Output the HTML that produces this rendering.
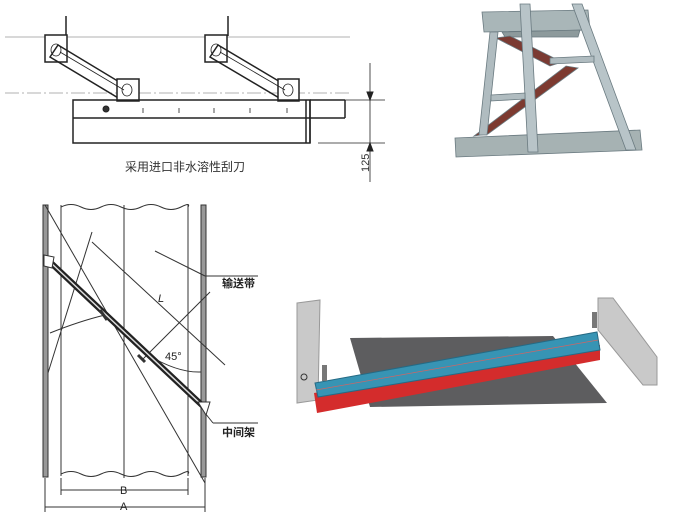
<!DOCTYPE html>
<html><head><meta charset="utf-8"><style>
html,body{margin:0;padding:0;background:#fff;width:681px;height:530px;overflow:hidden}
svg{display:block}
text{font-family:"Liberation Sans","Noto Sans CJK SC",sans-serif}
</style></head><body>
<svg width="681" height="530" viewBox="0 0 681 530" xmlns="http://www.w3.org/2000/svg">
<g stroke="#222" fill="none" stroke-width="1">
 <line x1="5" y1="37" x2="350" y2="37" stroke="#999" stroke-width="0.8"/>
 <line x1="5" y1="93" x2="350" y2="93" stroke="#999" stroke-width="0.8" stroke-dasharray="14,3,2,3"/>
 <g stroke-width="1.5">
  <line x1="66" y1="16" x2="66" y2="36"/>
  <rect x="45" y="35" width="22" height="27" fill="#fff"/>
  <line x1="228" y1="16" x2="228" y2="36"/>
  <rect x="205" y="35" width="22" height="27" fill="#fff"/>
  <polygon points="58,45 126,86 120,99 50,57"/>
  <polygon points="218,45 287,86 281,99 210,57"/>
  <rect x="117" y="79" width="22" height="22" fill="#fff"/>
  <rect x="278" y="79" width="21" height="22" fill="#fff"/>
  <rect x="73" y="100" width="237" height="43"/>
  <line x1="73" y1="118" x2="345" y2="118"/>
  <line x1="310" y1="100" x2="345" y2="100"/>
  <line x1="345" y1="100" x2="345" y2="118"/>
  <line x1="306" y1="100" x2="306" y2="143"/>
  <line x1="310" y1="100" x2="310" y2="143"/>
 </g>
 <g stroke-width="0.8">
  <ellipse cx="56" cy="50" rx="5" ry="6"/><ellipse cx="216" cy="50" rx="5" ry="6"/>
  <ellipse cx="127" cy="90" rx="5" ry="6"/><ellipse cx="288" cy="90" rx="5" ry="6"/>
  <line x1="60" y1="52" x2="124" y2="90"/><line x1="220" y1="52" x2="285" y2="90"/>
  <line x1="143" y1="108" x2="143" y2="113"/><line x1="179" y1="108" x2="179" y2="113"/>
  <line x1="214" y1="108" x2="214" y2="113"/><line x1="250" y1="108" x2="250" y2="113"/><line x1="287" y1="108" x2="287" y2="113"/>
  <line x1="345" y1="100" x2="385" y2="100"/><line x1="318" y1="143" x2="385" y2="143"/>
  <line x1="370" y1="63" x2="370" y2="182"/>
 </g>
 <circle cx="106" cy="109" r="3" fill="#333"/>
 <polygon points="367,92 373,92 370,100" fill="#222"/>
 <polygon points="367,151 373,151 370,143" fill="#222"/>
</g>
<text x="125" y="171" font-size="12" fill="#333">采用进口非水溶性刮刀</text>
<text transform="translate(369,172) rotate(-90)" font-size="11" fill="#333">125</text>

<g stroke="#333" fill="none" stroke-width="1">
 <rect x="43" y="205" width="5" height="272" fill="#999"/>
 <rect x="201" y="205" width="5" height="272" fill="#999"/>
 <path d="M61,207 q10,-5 20,0 t20,0 t20,0 t20,0 t20,0 t20,0 t7,0"/>
 <path d="M61,474 q10,-5 20,0 t20,0 t20,0 t20,0 t20,0 t20,0 t7,0"/>
 <line x1="61" y1="205" x2="61" y2="476"/>
 <line x1="188" y1="205" x2="188" y2="476"/>
 <line x1="124" y1="205" x2="124" y2="478"/>
 <line x1="45" y1="205" x2="205" y2="483"/>
 <line x1="92" y1="232" x2="48" y2="373"/>
 <line x1="210" y1="292" x2="142" y2="360"/>
 <line x1="92" y1="242" x2="225" y2="365"/>
 <line x1="155" y1="251" x2="205" y2="276" />
 <line x1="205" y1="276" x2="258" y2="276"/>
 <line x1="205" y1="413" x2="213" y2="423"/>
 <line x1="213" y1="423" x2="258" y2="423"/>
 <line x1="61" y1="478" x2="61" y2="495"/><line x1="188" y1="478" x2="188" y2="495"/>
 <line x1="45" y1="478" x2="45" y2="512"/><line x1="205" y1="478" x2="205" y2="512"/>
 <line x1="61" y1="490" x2="188" y2="490"/>
 <line x1="45" y1="507" x2="205" y2="507"/>
 <path d="M50,333 q30,-12 55,-18"/>
 <path d="M148,355 q30,18 53,17"/>
 <line x1="50" y1="262" x2="205" y2="408" stroke="#222" stroke-width="6"/>
 <line x1="50" y1="262" x2="205" y2="408" stroke="#ddd" stroke-width="1.5"/>
 <polygon points="44,255 54,257 52,268 44,266" fill="#fff"/>
 <polygon points="198,402 210,402 206,415" fill="#fff"/>
 <line x1="100" y1="310" x2="107" y2="320" stroke-width="3"/>
 <line x1="138" y1="355" x2="145" y2="362" stroke-width="3"/>
</g>
<text x="222" y="287" font-size="11" fill="#222" font-weight="bold">输送带</text>
<text x="222" y="436" font-size="11" fill="#222" font-weight="bold">中间架</text>
<text x="158" y="302" font-size="11" fill="#222" font-style="italic">L</text>
<text x="165" y="360" font-size="11" fill="#222">45°</text>
<text x="120" y="494" font-size="11" fill="#222">B</text>
<text x="120" y="510" font-size="11" fill="#222">A</text>

<!-- top-right photo -->
<g stroke="#6a7a80" stroke-width="0.8">
 <polygon points="482,12 588,10 590,30 484,32" fill="#a9b6b8"/>
 <polygon points="502,32 580,30 578,37 505,37" fill="#8d9a9c"/>
 <polygon points="455,138 640,130 642,150 456,157" fill="#a6b2b3"/>
 <polygon points="496,38 550,66 562,62 510,36" fill="#7b3a32"/>
 <polygon points="474,136 488,134 578,68 566,66" fill="#7d3a30"/>
 <polygon points="490,32 498,32 487,135 479,135" fill="#b0bcc0"/>
 <polygon points="520,4 530,4 538,152 528,152" fill="#b8c4c8"/>
 <polygon points="572,4 582,4 636,150 626,150" fill="#b8c4c8"/>
 <polygon points="550,58 594,56 594,62 550,64" fill="#b0bcc0"/>
 <polygon points="491,95 525,93 525,99 491,101" fill="#b0bcc0"/>
</g>

<!-- bottom-right photo -->
<polygon points="350,338 553,336 607,403 370,407" fill="#5d5d5f"/>
<polygon points="297,303 320,300 318,400 297,403" fill="#c9c9c9" stroke="#999"/>
<polygon points="598,298 613,298 657,357 657,385 643,385 598,330" fill="#c9c9c9" stroke="#999"/>
<polygon points="314,393 600,345 600,360 317,413" fill="#d42c2c"/>
<polygon points="315,383 597,332 600,350 318,397" fill="#3794b4" stroke="#256a84" stroke-width="1"/>
<line x1="316" y1="390" x2="598" y2="340" stroke="#c66" stroke-width="0.7"/>
<rect x="322" y="365" width="5" height="16" fill="#777"/>
<rect x="592" y="312" width="5" height="16" fill="#777"/>
<circle cx="304" cy="377" r="3" fill="none" stroke="#333"/>
</svg>
</body></html>
